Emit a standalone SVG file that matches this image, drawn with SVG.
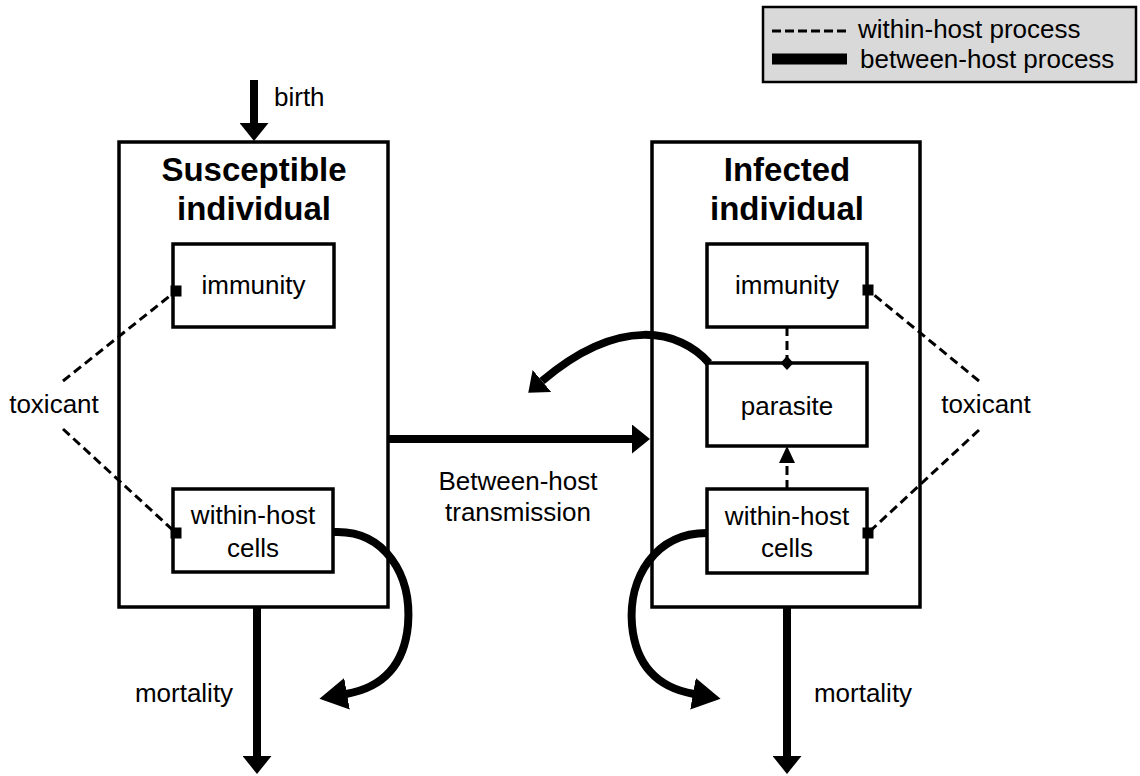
<svg xmlns="http://www.w3.org/2000/svg" width="1140" height="776" viewBox="0 0 1140 776">
<style>
text{font-family:"Liberation Sans",Arial,Helvetica,sans-serif;fill:#000}
.t{font-size:26px;text-anchor:middle}
.title{font-size:33px;font-weight:bold;text-anchor:middle}
.big{fill:#fff;stroke:#000;stroke-width:3.5}
.box{fill:#fff;stroke:#000;stroke-width:3.5}
.thick{fill:none;stroke:#000;stroke-width:8}
.dash{fill:none;stroke:#000;stroke-width:3;stroke-dasharray:9 5}
.end{fill:#000;stroke:none}
</style>
<defs>
<marker id="ah" viewBox="0 0 18 29" refX="0" refY="14.5" markerWidth="18" markerHeight="29" markerUnits="userSpaceOnUse" orient="auto">
<path d="M0,0 L18,14.5 L0,29 z" fill="#000"/>
</marker>
<marker id="ahc" viewBox="0 0 28 32" refX="1" refY="16" markerWidth="28" markerHeight="32" markerUnits="userSpaceOnUse" orient="auto">
<path d="M0,0 L28,16 L0,32 z" fill="#000"/>
</marker>
<marker id="tri" viewBox="0 0 17 16" refX="0" refY="8" markerWidth="17" markerHeight="16" markerUnits="userSpaceOnUse" orient="auto">
<path d="M0,0 L17,8 L0,16 z" fill="#000"/>
</marker>
</defs>

<g id="legend">
<rect x="763" y="7" width="373" height="75" fill="#d9d9d9" stroke="#000" stroke-width="2.5"/>
<line x1="772" y1="31" x2="846" y2="31" stroke="#000" stroke-width="3" stroke-dasharray="9 4"/>
<text x="858" y="38" style="font-size:26px">within-host process</text>
<line x1="772" y1="59" x2="847" y2="59" stroke="#000" stroke-width="11"/>
<text x="860" y="68" style="font-size:26px">between-host process</text>
</g>

<g id="susceptible">
<rect class="big" x="119" y="142" width="269" height="465"/>
<text class="title" x="254" y="181">Susceptible</text>
<text class="title" x="254" y="220">individual</text>
</g>
<g id="s-immunity">
<rect class="box" x="173" y="244" width="161" height="83"/>
<text class="t" x="253.5" y="294">immunity</text>
</g>
<g id="s-cells">
<rect class="box" x="173" y="489" width="160" height="83"/>
<text class="t" x="253" y="524">within-host</text>
<text class="t" x="253" y="557">cells</text>
</g>

<g id="infected">
<rect class="big" x="652" y="142" width="268" height="465"/>
<text class="title" x="787" y="181">Infected</text>
<text class="title" x="787" y="220">individual</text>
</g>
<g id="i-immunity">
<rect class="box" x="707" y="244" width="160" height="83"/>
<text class="t" x="787" y="294">immunity</text>
</g>
<g id="i-parasite">
<rect class="box" x="707" y="363" width="160" height="83"/>
<text class="t" x="787" y="415">parasite</text>
</g>
<g id="i-cells">
<rect class="box" x="707" y="489" width="160" height="84"/>
<text class="t" x="787" y="525">within-host</text>
<text class="t" x="787" y="557">cells</text>
</g>

<g id="labels">
<text class="t" x="54" y="413">toxicant</text>
<text class="t" x="986" y="413">toxicant</text>
<text x="274" y="106" style="font-size:26px">birth</text>
<text class="t" x="184" y="702">mortality</text>
<text class="t" x="863" y="702">mortality</text>
<text class="t" x="518" y="490">Between-host</text>
<text class="t" x="518" y="521">transmission</text>
</g>

<g id="connectors">
<line class="thick" x1="254" y1="80" x2="254" y2="123" marker-end="url(#ah)"/>
<line class="thick" x1="257" y1="607" x2="257" y2="756" marker-end="url(#ah)"/>
<line class="thick" x1="787" y1="607" x2="787" y2="756" marker-end="url(#ah)"/>
<line class="thick" x1="388" y1="439" x2="632" y2="439" marker-end="url(#ah)"/>
<path class="thick" d="M334,532 C385,530 412,575 408,625 C404,668 380,688 346,694" marker-end="url(#ahc)"/>
<path class="thick" d="M707,533 C655,533 628,578 632,625 C636,668 660,688 694,694" marker-end="url(#ahc)"/>
<path class="thick" d="M709,363 C680,330 620,315 542,381" marker-end="url(#ah)"/>
<line class="dash" x1="63" y1="381" x2="176" y2="291"/>
<line class="dash" x1="63" y1="429" x2="176" y2="533"/>
<line class="dash" x1="979" y1="381" x2="868" y2="290"/>
<line class="dash" x1="979" y1="430" x2="868" y2="533"/>
<rect class="end" x="170.5" y="285.5" width="11" height="11"/>
<rect class="end" x="170.5" y="527.5" width="11" height="11"/>
<rect class="end" x="862.5" y="284.5" width="11" height="11"/>
<rect class="end" x="862.5" y="527.5" width="11" height="11"/>
<line class="dash" x1="787" y1="327" x2="787" y2="360"/>
<path class="end" d="M780.5,363 L787,356 L793.5,363 L787,370 z"/>
<line class="dash" x1="787" y1="489" x2="787" y2="463" marker-end="url(#tri)"/>
</g>
</svg>
